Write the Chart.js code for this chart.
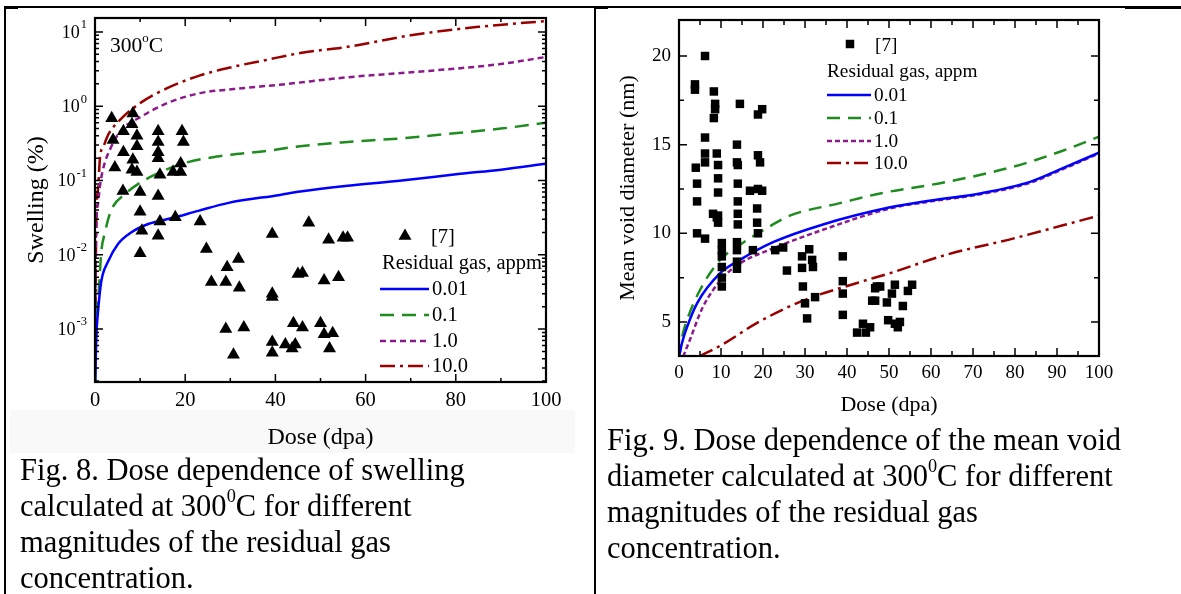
<!DOCTYPE html>
<html>
<head>
<meta charset="utf-8">
<script src="https://cdn.jsdelivr.net/npm/chart.js@4/dist/chart.umd.min.js"></script>
<style>
  body { margin: 0; width: 1181px; height: 594px; background: #fff; position: relative; overflow: hidden; font-family: "Liberation Serif", "Times New Roman", serif; }
  canvas { position: absolute; top: 0; }
  .rule { position: absolute; background: #000; z-index: 5; }
  .band { position: absolute; left: 10px; top: 410px; width: 565px; height: 43px; background: #f9f9f9; }
  .caption { position: absolute; font-size: 30.5px; line-height: 36px; color: #000; white-space: nowrap; }
  .temp { position: absolute; left: 110px; top: 32px; font-size: 21.5px; line-height: 26px; z-index: 4; }
  sup { font-size: 0.6em; position: relative; top: -0.75em; vertical-align: baseline; line-height: 0; }
</style>
</head>
<body>
<div class="band"></div>
<canvas id="swellingChart" width="590" height="460" style="left:0"></canvas>
<canvas id="diameterChart" width="584" height="430" style="left:597px"></canvas>
<div class="temp">300<sup>o</sup>C</div>
<div class="caption" style="left:20px; top:452px">Fig. 8. Dose dependence of swelling<br>calculated at 300<sup>0</sup>C for different<br>magnitudes of the residual gas<br>concentration.</div>
<div class="caption" style="left:607px; top:422px">Fig. 9. Dose dependence of the mean void<br>diameter calculated at 300<sup>0</sup>C for different<br>magnitudes of the residual gas<br>concentration.</div>
<div class="rule" style="left:5px; top:6px; width:1120px; height:2px"></div>
<div class="rule" style="left:1125px; top:6px; width:56px; height:3px"></div>
<div class="rule" style="left:4px; top:6px; width:14px; height:3px"></div>
<div class="rule" style="left:594px; top:6px; width:14px; height:3px"></div>
<div class="rule" style="left:4px; top:6px; width:2px; height:588px"></div>
<div class="rule" style="left:594px; top:6px; width:2px; height:588px"></div>
<script>
'use strict'

const serif = '"Liberation Serif", "Times New Roman", serif';

// ---- Fig. 8: swelling (%) vs dose (dpa), log scale ----
const refDose8 = [3.7, 8.4, 4, 6.3, 8.2, 9.3, 9.3, 6.3, 8.4, 8.2, 4.4, 9.3, 14, 14, 14, 14, 14.4, 19.3, 19.6, 17.3,
    19, 19, 6.2, 10, 10, 14, 14.4, 10.4, 17.8, 23.3, 14, 39.3, 24.7, 10, 29.3, 31.8, 25.8, 29, 32, 39.3, 39.3,
    29, 33, 30.7, 39.3, 39.3, 42.2, 43.7, 44, 45, 47.4, 51.8, 55, 56, 46, 50.8, 54, 46, 50, 50.8, 52.7, 44.4, 52];
const refSwelling8 = [0.69, 0.8, 0.35, 0.46, 0.57, 0.4, 0.29, 0.24, 0.19, 0.14, 0.15, 0.13, 0.46, 0.33, 0.24, 0.2, 0.12, 0.46, 0.33, 0.13,
    0.17, 0.13, 0.072, 0.07, 0.038, 0.062, 0.028, 0.021, 0.032, 0.028, 0.018, 0.019, 0.012, 0.0105, 0.0068, 0.0088, 0.0043, 0.0043, 0.0036, 0.003, 0.0027,
    0.001, 0.00105, 0.00045, 0.00067, 0.00048, 0.00062, 0.00055, 0.0012, 0.0055, 0.027, 0.016, 0.017, 0.017, 0.0057, 0.0045, 0.005, 0.00105, 0.0012, 0.00085, 0.00088, 0.00062, 0.00055];

const dose8gas001 = [0.05, 0.3, 0.7, 1.4, 2.9, 5.1, 8, 11.8, 16.9, 22.9, 29.6, 41, 45.5, 56, 68, 81, 90, 100];
const swell8gas001 = [0.0002, 0.0008, 0.0018, 0.0044, 0.0081, 0.014, 0.02, 0.026, 0.031, 0.039, 0.05, 0.064, 0.071, 0.085, 0.1, 0.123, 0.14, 0.168];
const dose8gas01 = [0.05, 0.2, 0.7, 1.4, 2.2, 3.6, 6.7, 9.6, 13.3, 19.6, 27, 38, 45.5, 56, 68, 81, 90, 100];
const swell8gas01 = [0.0002, 0.001, 0.0025, 0.011, 0.02, 0.04, 0.066, 0.09, 0.12, 0.17, 0.21, 0.25, 0.29, 0.33, 0.37, 0.44, 0.5, 0.6];
const dose8gas1 = [0.02, 0.2, 0.7, 1.1, 2, 3.3, 5.6, 10, 16, 23.3, 30.7, 41, 56, 68, 81, 90, 100];
const swell8gas1 = [0.0003, 0.016, 0.05, 0.085, 0.16, 0.26, 0.46, 0.71, 1.1, 1.5, 1.7, 1.95, 2.45, 2.8, 3.25, 3.7, 4.6];
const dose8gas10 = [0.02, 0.3, 0.7, 1.1, 2, 3, 5.6, 10, 16, 23.3, 30.7, 38, 45.5, 56, 70, 85, 100];
const swell8gas10 = [0.0003, 0.03, 0.08, 0.2, 0.3, 0.42, 0.66, 1.1, 1.75, 2.6, 3.4, 4.2, 5.2, 6.3, 9.0, 11.7, 14];

const doseTicks8 = [0, 20, 40, 60, 80, 100];
const doseMinor8 = [10, 30, 50, 70, 90];
const swellDecades8 = [1e-3, 1e-2, 1e-1, 1, 10];
const swellExponents8 = ['-3', '-2', '-1', '0', '1'];

// ---- Fig. 9: mean void diameter (nm) vs dose (dpa) ----
const refDose9 = [6.2, 3.8, 3.8, 8.3, 8.6, 8.6, 8.3, 14.5, 19.8, 18.8, 6.2, 6.2, 6.2, 4.0, 9.0, 9.3, 13.8, 13.8, 14.0, 18.8, 19.3,
    4.3, 9.3, 9.3, 14.0, 16.9, 18.8, 19.8, 4.3, 14.0, 14.0, 18.6, 8.1, 9.3, 9.0, 9.3, 14.0, 18.6, 18.8, 4.3, 6.2,
    10.2, 10.2, 10.2, 10.2, 10.2, 10.2, 13.8, 13.8, 13.8, 13.8, 17.6, 22.9, 24.8, 25.7, 29.3, 29.3, 31, 31.7, 31.9,
    29.5, 30, 30.5, 32.4, 39, 39, 39, 39, 42.4, 43.8, 44.5, 45.5, 46, 46.7, 46.7, 47.1, 49.5, 49.8, 47.9,
    51.4, 50.7, 55.5, 54.5, 53.3, 51.4, 52.1, 52.6];
const refDiameter9 = [20.0, 18.4, 18.1, 18.0, 17.3, 17.0, 16.5, 17.3, 17.0, 16.7, 15.4, 14.5, 14.0, 13.7, 14.5, 13.85, 15.0, 14.0, 13.85, 14.4, 14.0,
    12.8, 13.1, 12.3, 12.8, 12.4, 12.5, 12.4, 11.8, 11.8, 11.1, 11.4, 11.1, 11.0, 10.9, 10.6, 10.5, 10.6, 10.0, 10.0, 9.7,
    9.45, 9.05, 8.7, 8.1, 7.5, 7.0, 9.5, 9.05, 8.4, 8.0, 9.05, 9.05, 9.2, 7.9, 8.7, 8.05, 9.1, 8.5, 8.1,
    7.0, 6.05, 5.2, 6.4, 8.7, 7.3, 6.6, 5.4, 4.4, 4.9, 4.4, 4.7, 6.2, 6.2, 6.9, 7.0, 6.1, 5.1, 7.0,
    7.1, 6.6, 7.1, 6.75, 5.9, 4.9, 4.7, 5.0];

const dose9gas001 = [0, 0.7, 1.9, 4.3, 9.8, 14.5, 22.4, 34.3, 50, 60, 71.7, 83.6, 90.7, 100];
const diam9gas001 = [3.0, 3.8, 4.7, 6.05, 7.75, 8.5, 9.5, 10.5, 11.45, 11.85, 12.25, 12.9, 13.6, 14.55];
const dose9gas01 = [0, 0.7, 1.9, 5, 9.8, 14.5, 22.4, 26.4, 38.3, 47.9, 63.8, 79.5, 90.7, 100];
const diam9gas01 = [3.0, 4.1, 5.1, 6.8, 8.5, 9.35, 10.5, 11.0, 11.7, 12.25, 12.9, 13.75, 14.6, 15.45];
const dose9gas1 = [1, 2.6, 5.7, 10.5, 14.5, 22.4, 34.3, 50.2, 60, 71.7, 83.6, 90.7, 100];
const diam9gas1 = [3.05, 4.0, 5.85, 7.5, 8.3, 9.15, 10.2, 11.4, 11.8, 12.2, 12.85, 13.55, 14.5];
const dose9gas10 = [5, 10.5, 18.6, 29.5, 42.4, 50.2, 63.8, 79.5, 91.4, 100];
const diam9gas10 = [3.08, 3.75, 4.95, 6.2, 7.2, 7.75, 8.8, 9.7, 10.45, 11.0];

const doseTicks9 = [0, 10, 20, 30, 40, 50, 60, 70, 80, 90, 100];
const doseMinor9 = [5, 15, 25, 35, 45, 55, 65, 75, 85, 95];
const diamTicks9 = [5, 10, 15, 20];
const diamMinor9 = [7.5, 12.5, 17.5];

const gasLabels = ['0.01', '0.1', '1.0', '10.0'];
const gasColors = ['#0000ff', '#1e8c1e', '#8b1a8b', '#990000'];

const toPoints = (xs, ys) => xs.map((v, i) => ({x: v, y: ys[i]}));

// inward tick marks on all four sides + the box
const frameTicks = {
    id: 'frameTicks',
    afterDatasetsDraw(chart, args, o) {
        const {ctx, chartArea: a, scales: {x, y}} = chart;
        ctx.save();
        ctx.strokeStyle = '#000';
        ctx.lineWidth = 1.5;
        ctx.beginPath();
        const xMarks = (vals, len) => vals.forEach(v => {
            const px = x.getPixelForValue(v);
            ctx.moveTo(px, a.bottom); ctx.lineTo(px, a.bottom - len);
            ctx.moveTo(px, a.top); ctx.lineTo(px, a.top + len);
        });
        const yMarks = (vals, len) => vals.forEach(v => {
            const py = y.getPixelForValue(v);
            ctx.moveTo(a.left, py); ctx.lineTo(a.left + len, py);
            ctx.moveTo(a.right, py); ctx.lineTo(a.right - len, py);
        });
        xMarks(o.xMajor, o.majorLen);
        xMarks(o.xMinor, o.minorLen);
        yMarks(o.yMajor, o.majorLen);
        yMarks(o.yMinor, o.minorLen);
        ctx.stroke();
        ctx.lineWidth = 2.2;
        ctx.strokeRect(a.left, a.top, a.width, a.height);
        ctx.restore();
    }
};

// 10^n labels for the log axis
const powLabels = {
    id: 'powLabels',
    afterDraw(chart, args, o) {
        const {ctx, chartArea: a, scales: {y}} = chart;
        ctx.save();
        ctx.fillStyle = '#000';
        ctx.textAlign = 'right';
        ctx.textBaseline = 'middle';
        swellDecades8.forEach((v, i) => {
            const py = y.getPixelForValue(v);
            ctx.font = '12.5px ' + serif;
            const ew = ctx.measureText(swellExponents8[i]).width;
            ctx.fillText(swellExponents8[i], a.left - 8, py - 7);
            ctx.font = '18px ' + serif;
            ctx.fillText('10', a.left - 9 - ew, py + 1);
        });
        ctx.restore();
    }
};

// legend drawn inside the plot: marker entry, header, then the line entries
const sideLegend = {
    id: 'sideLegend',
    afterDraw(chart, args, o) {
        const ctx = chart.ctx;
        const sets = chart.data.datasets;
        ctx.save();
        ctx.font = o.font;
        ctx.fillStyle = '#000';
        ctx.textBaseline = 'middle';
        ctx.textAlign = 'left';

        const m = sets[0];
        const r = m.pointRadius;
        ctx.beginPath();
        if (m.pointStyle === 'triangle') {
            ctx.moveTo(o.markerX, o.markerY - r);
            ctx.lineTo(o.markerX + r * 0.866, o.markerY + r / 2);
            ctx.lineTo(o.markerX - r * 0.866, o.markerY + r / 2);
            ctx.closePath();
        } else {
            const s = r * Math.SQRT1_2;
            ctx.rect(o.markerX - s, o.markerY - s, 2 * s, 2 * s);
        }
        ctx.fill();
        ctx.fillText(m.label, o.markerTextX, o.markerY + 2);
        ctx.fillText(o.header, o.headerX, o.headerY);

        sets.slice(1).forEach((ds, i) => {
            const py = o.rowY[i];
            ctx.strokeStyle = ds.borderColor;
            ctx.lineWidth = ds.borderWidth;
            ctx.setLineDash(ds.borderDash || []);
            ctx.beginPath();
            ctx.moveTo(o.lineX1, py);
            ctx.lineTo(o.lineX2, py);
            ctx.stroke();
            ctx.setLineDash([]);
            ctx.fillText(ds.label, o.textX, py + 1);
        });
        ctx.restore();
    }
};

const curve = (label, xs, ys, i, dash) => ({
    type: 'line',
    label: label,
    data: toPoints(xs, ys),
    borderColor: gasColors[i],
    borderWidth: 2.5,
    borderDash: dash,
    pointRadius: 0,
    cubicInterpolationMode: 'monotone',
    fill: false
});

let swellingChart = document.querySelector('#swellingChart');
if (swellingChart) {
    new Chart(swellingChart, {
        type: 'line',
        data: {
            datasets: [
                {
                    type: 'scatter',
                    label: '[7]',
                    data: toPoints(refDose8, refSwelling8),
                    pointStyle: 'triangle',
                    pointRadius: 7.5,
                    backgroundColor: '#000',
                    borderWidth: 0
                },
                curve(gasLabels[0], dose8gas001, swell8gas001, 0, []),
                curve(gasLabels[1], dose8gas01, swell8gas01, 1, [14, 8]),
                curve(gasLabels[2], dose8gas1, swell8gas1, 2, [6, 4]),
                curve(gasLabels[3], dose8gas10, swell8gas10, 3, [15, 5, 3, 5])
            ]
        },
        options: {
            responsive: false,
            animation: false,
            layout: {padding: {left: 0, top: 18, right: 44, bottom: 8}},
            plugins: {
                legend: {display: false},
                tooltip: {enabled: false},
                frameTicks: {
                    xMajor: doseTicks8, xMinor: doseMinor8,
                    yMajor: swellDecades8,
                    yMinor: swellDecades8.flatMap(d => [2, 3, 4, 5, 6, 7, 8, 9].map(k => k * d)).filter(v => v < 15.4)
                        .concat([2e-4, 3e-4, 4e-4, 5e-4, 6e-4, 7e-4, 8e-4, 9e-4]),
                    majorLen: 8, minorLen: 4
                },
                sideLegend: {
                    font: '20.5px ' + serif,
                    markerX: 405, markerY: 236, markerTextX: 431,
                    header: 'Residual gas, appm', headerX: 382, headerY: 264,
                    lineX1: 380, lineX2: 429, textX: 432,
                    rowY: [289, 315, 341, 366]
                }
            },
            scales: {
                x: {
                    type: 'linear', min: 0, max: 100,
                    grid: {display: false, drawTicks: false},
                    border: {display: false},
                    afterBuildTicks: s => { s.ticks = doseTicks8.map(v => ({value: v})); },
                    afterFit: s => { s.height = 70; },
                    ticks: {color: '#000', padding: 6, maxRotation: 0, font: {family: serif, size: 20.5}},
                    title: {display: true, text: 'Dose (dpa)', color: '#000', padding: 0, font: {family: serif, size: 24}}
                },
                y: {
                    type: 'logarithmic', min: 1.94e-4, max: 15.4,
                    grid: {display: false, drawTicks: false},
                    border: {display: false},
                    ticks: {display: false},
                    afterFit: s => { s.width = 95; },
                    title: {display: true, text: 'Swelling (%)', color: '#000', padding: {top: 22, bottom: 0}, font: {family: serif, size: 24}}
                }
            }
        },
        plugins: [frameTicks, powLabels, sideLegend]
    });
}

let diameterChart = document.querySelector('#diameterChart');
if (diameterChart) {
    new Chart(diameterChart, {
        type: 'line',
        data: {
            datasets: [
                {
                    type: 'scatter',
                    label: '[7]',
                    data: toPoints(refDose9, refDiameter9),
                    pointStyle: 'rect',
                    pointRadius: 6,
                    backgroundColor: '#000',
                    borderWidth: 0
                },
                curve(gasLabels[0], dose9gas001, diam9gas001, 0, []),
                curve(gasLabels[1], dose9gas01, diam9gas01, 1, [13, 8]),
                curve(gasLabels[2], dose9gas1, diam9gas1, 2, [5, 3]),
                curve(gasLabels[3], dose9gas10, diam9gas10, 3, [14, 5, 3, 5])
            ]
        },
        options: {
            responsive: false,
            animation: false,
            layout: {padding: {left: 0, top: 20, right: 82, bottom: 12}},
            plugins: {
                legend: {display: false},
                tooltip: {enabled: false},
                frameTicks: {
                    xMajor: doseTicks9, xMinor: doseMinor9,
                    yMajor: diamTicks9, yMinor: diamMinor9,
                    majorLen: 8, minorLen: 5
                },
                sideLegend: {
                    font: '19.3px ' + serif,
                    markerX: 253, markerY: 44, markerTextX: 278,
                    header: 'Residual gas, appm', headerX: 230, headerY: 72,
                    lineX1: 230, lineX2: 274, textX: 277,
                    rowY: [95, 118, 141, 163]
                }
            },
            scales: {
                x: {
                    type: 'linear', min: 0, max: 100,
                    grid: {display: false, drawTicks: false},
                    border: {display: false},
                    afterBuildTicks: s => { s.ticks = doseTicks9.map(v => ({value: v})); },
                    afterFit: s => { s.height = 62; },
                    ticks: {color: '#000', padding: 6, maxRotation: 0, font: {family: serif, size: 19}},
                    title: {display: true, text: 'Dose (dpa)', color: '#000', padding: 0, font: {family: serif, size: 22}}
                },
                y: {
                    type: 'linear', min: 3.08, max: 22.03,
                    grid: {display: false, drawTicks: false},
                    border: {display: false},
                    afterBuildTicks: s => { s.ticks = diamTicks9.map(v => ({value: v})); },
                    afterFit: s => { s.width = 82; },
                    ticks: {color: '#000', padding: 8, font: {family: serif, size: 19}},
                    title: {display: true, text: 'Mean void diameter (nm)', color: '#000', padding: {top: 18, bottom: 0}, font: {family: serif, size: 22}}
                }
            }
        },
        plugins: [frameTicks, sideLegend]
    });
}
</script>
</body>
</html>
